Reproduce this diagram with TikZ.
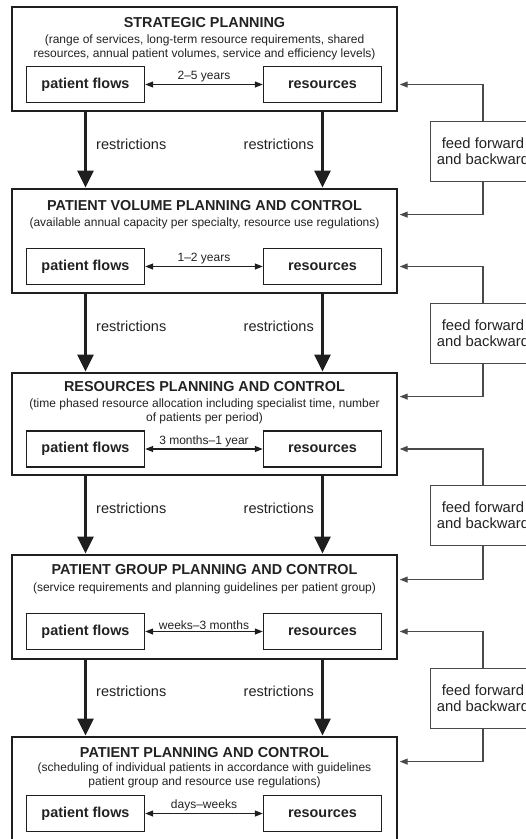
\documentclass[tikz,border=0pt]{standalone}
\usepackage{fontspec}
\setmainfont{Liberation Sans}
\usetikzlibrary{arrows.meta,calc}

\definecolor{ink}{HTML}{1F1F1F}
\definecolor{txt}{HTML}{222222}
\definecolor{fbline}{HTML}{4A4A4A}

\tikzset{
  lvlbox/.style={draw=ink, line width=2.8pt, minimum width=385pt, minimum height=104pt, inner sep=0pt},
  lvltitle/.style={font=\fontsize{14.4}{16}\selectfont\bfseries, text=txt, inner sep=0pt},
  lvlnote/.style={font=\fontsize{12}{13.8}\selectfont, text=txt, align=center, inner sep=0pt},
  unitbox/.style={draw=ink, line width=1.4pt, minimum width=118pt, minimum height=36pt,
    font=\fontsize{14.4}{16}\selectfont\bfseries, text=txt, inner sep=0pt},
  horizonlabel/.style={font=\fontsize{12}{14}\selectfont, text=txt, inner sep=1.5pt, anchor=south},
  restrlabel/.style={font=\fontsize{14.5}{16}\selectfont, text=txt, inner sep=0pt},
  feedbox/.style={draw=fbline, line width=1pt, minimum width=106pt, minimum height=60pt,
    align=center, font=\fontsize{14.8}{15.6}\selectfont, text=txt, inner sep=0pt},
  flowarrow/.style={draw=ink, line width=3pt, -{Triangle[length=17pt,width=16pt]}},
  feedlink/.style={draw=fbline, line width=1.2pt, -{Triangle[length=8pt,width=6pt]}, shorten >=1.3pt},
  spanarrow/.style={draw=ink, line width=1.2pt, {Triangle[length=8pt,width=6pt]}-{Triangle[length=8pt,width=6pt]}},
}

\begin{document}
\begin{tikzpicture}[x=1pt,y=-1pt]
\useasboundingbox (0,0) rectangle (526,839);
\clip (0,0) rectangle (526,839);

% ---- level 1: strategic planning
\node[lvlbox] (L1) at (204.5,59) {};
\node[lvltitle] (T1) at (204.5,22.5) {STRATEGIC PLANNING};
\node[lvlnote] (N1) at (204.5,47) {(range of services, long-term resource requirements, shared\\resources, annual patient volumes, service and efficiency levels)};
\node[unitbox] (P1) at (85.5,84.5) {patient flows};
\node[unitbox] (R1) at (322.5,84.5) {resources};
\draw[spanarrow] (P1.east) -- (R1.west) node[horizonlabel, midway] (H1) {2--5 years};

% ---- level 2: patient volume planning
\node[lvlbox] (L2) at (204.5,241) {};
\node[lvltitle] (T2) at (204.5,206) {PATIENT VOLUME PLANNING AND CONTROL};
\node[lvlnote] (N2) at (204.5,223) {(available annual capacity per specialty, resource use regulations)};
\node[unitbox] (P2) at (85.5,266.5) {patient flows};
\node[unitbox] (R2) at (322.5,266.5) {resources};
\draw[spanarrow] (P2.east) -- (R2.west) node[horizonlabel, midway] (H2) {1--2 years};

% ---- level 3: resources planning
\node[lvlbox, minimum height=102pt] (L3) at (204.5,424) {};
\node[lvltitle] (T3) at (204.5,387) {RESOURCES PLANNING AND CONTROL};
\node[lvlnote] (N3) at (204.5,411.5) {(time phased resource allocation including specialist time, number\\of patients per period)};
\node[unitbox] (P3) at (85.5,449) {patient flows};
\node[unitbox] (R3) at (322.5,449) {resources};
\draw[spanarrow] (P3.east) -- (R3.west) node[horizonlabel, midway] (H3) {3 months--1 year};

% ---- level 4: patient group planning
\node[lvlbox] (L4) at (204.5,607) {};
\node[lvltitle] (T4) at (204.5,570) {PATIENT GROUP PLANNING AND CONTROL};
\node[lvlnote] (N4) at (204.5,588) {(service requirements and planning guidelines per patient group)};
\node[unitbox] (P4) at (85.5,631.5) {patient flows};
\node[unitbox] (R4) at (322.5,631.5) {resources};
\draw[spanarrow] (P4.east) -- (R4.west) node[horizonlabel, midway] (H4) {weeks--3 months};

% ---- level 5: patient planning
\node[lvlbox] (L5) at (204.5,789) {};
\node[lvltitle] (T5) at (204.5,753) {PATIENT PLANNING AND CONTROL};
\node[lvlnote] (N5) at (204.5,775.5) {(scheduling of individual patients in accordance with guidelines\\patient group and resource use regulations)};
\node[unitbox] (P5) at (85.5,813.5) {patient flows};
\node[unitbox] (R5) at (322.5,813.5) {resources};
\draw[spanarrow] (P5.east) -- (R5.west) node[horizonlabel, midway] (H5) {days--weeks};

% ---- restrictions passed down between levels
\foreach \u/\l/\y in {1/2/144, 2/3/326, 3/4/508, 4/5/691}{
  \draw[flowarrow] (P\u |- L\u.south) -- (P\l |- L\l.north);
  \draw[flowarrow] (R\u |- L\u.south) -- (R\l |- L\l.north);
  \node[restrlabel, anchor=west] (RL\u) at (96,\y) {restrictions};
  \node[restrlabel, anchor=east] (RR\u) at (314,\y) {restrictions};
}

% ---- feed forward and backward between adjacent levels
\node[feedbox] (F1) at (483,151) {feed forward\\and backward};
\node[feedbox] (F2) at (483,333) {feed forward\\and backward};
\node[feedbox] (F3) at (483,515.5) {feed forward\\and backward};
\node[feedbox] (F4) at (483,698) {feed forward\\and backward};

\coordinate (in2) at ($(L2.north east)+(0,27)$);
\coordinate (in3) at ($(L3.north east)+(0,25)$);
\coordinate (in4) at ($(L4.north east)+(0,26)$);
\coordinate (in5) at ($(L5.north east)+(0,26)$);

\draw[feedlink] (F1.north) |- (R1 -| L1.east);
\draw[feedlink] (F1.south) |- (in2);
\draw[feedlink] (F2.north) |- (R2 -| L2.east);
\draw[feedlink] (F2.south) |- (in3);
\draw[feedlink] (F3.north) |- (R3 -| L3.east);
\draw[feedlink] (F3.south) |- (in4);
\draw[feedlink] (F4.north) |- (R4 -| L4.east);
\draw[feedlink] (F4.south) |- (in5);
\end{tikzpicture}
\end{document}
